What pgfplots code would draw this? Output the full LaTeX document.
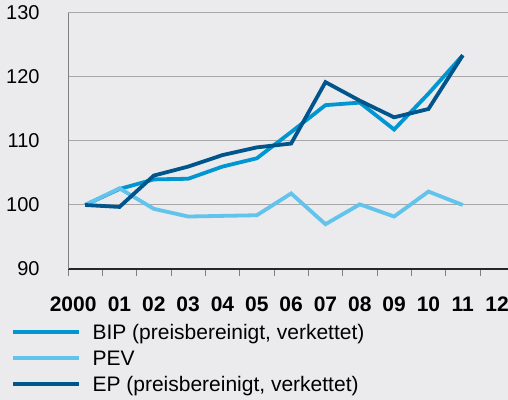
\documentclass[border=0pt]{standalone}
\usepackage{fontspec}
\setmainfont{Liberation Sans}
\usepackage{pgfplots}
\pgfplotsset{compat=1.18}
\definecolor{bg}{HTML}{EBEBEE}
\definecolor{bip}{HTML}{0096D2}
\definecolor{pev}{HTML}{62C3EC}
\definecolor{ep}{HTML}{00568C}
\definecolor{gridc}{HTML}{A8A8A8}
\begin{document}
\begin{tikzpicture}
\fill[bg] (0,0) rectangle (508bp,400bp);
\begin{axis}[
  at={(68bp,131bp)}, anchor=south west,
  scale only axis, width=440bp, height=256bp,
  xmin=-0.5, xmax=12.317, ymin=90, ymax=130,
  axis x line=bottom, axis y line=left,
  x axis line style={-, draw=black!85, line width=1.5bp},
  y axis line style={-, draw=gray, line width=0.8bp},
  ytick={90,100,...,130},
  ymajorgrids, grid style={gridc, line width=1bp},
  xtick={-0.35,1,2,3,4,5,6,7,8,9,10,11,12},
  xticklabels={2000,01,02,03,04,05,06,07,08,09,10,11,12},
  minor xtick={-0.5,0.5,...,11.5},
  tick align=outside,
  major x tick style={draw=none},
  minor x tick style={draw=gray, line width=0.8bp},
  minor tick length=7bp,
  major y tick style={draw=none},
  /pgf/number format/assume math mode=true,
  xticklabel style={font=\fontsize{21bp}{24bp}\selectfont\bfseries, inner sep=0pt, anchor=base, yshift=-38bp},
  yticklabel style={font=\fontsize{20bp}{24bp}\selectfont, inner sep=0pt, anchor=east, xshift=-24bp},
  legend style={at={(-0.1295,-0.2129)}, anchor=north west, draw=none, fill=none,
    inner sep=0pt, row sep=10.3bp, column sep=11.5bp,
    font=\fontsize{21bp}{24bp}\selectfont,
    nodes={inner sep=0pt, text height=15.5bp, text depth=0.5bp}},
  legend cell align=left,
  legend image code/.code={\draw[#1] (0bp,0bp) -- (66bp,0bp);},
  every axis plot/.append style={line width=3.8bp},
]
\addplot[bip] coordinates {(0,100)(1,102.5)(2,104.0)(3,104.1)(4,106.0)(5,107.3)(6,111.4)(7,115.6)(8,116.0)(9,111.8)(10,117.4)(11,123.4)};
\addlegendentry{BIP (preisbereinigt, verkettet)}
\addplot[pev] coordinates {(0,100)(1,102.6)(2,99.4)(3,98.2)(4,98.3)(5,98.4)(6,101.8)(7,97.0)(8,100.1)(9,98.2)(10,102.1)(11,100.0)};
\addlegendentry{PEV}
\addplot[ep] coordinates {(0,100)(1,99.7)(2,104.6)(3,106.0)(4,107.8)(5,109.0)(6,109.6)(7,119.2)(8,116.3)(9,113.7)(10,115.0)(11,123.4)};
\addlegendentry{EP (preisbereinigt, verkettet)}
\end{axis}
\pgfresetboundingbox
\useasboundingbox (0,0) rectangle (508bp,400bp);
\end{tikzpicture}
\end{document}
